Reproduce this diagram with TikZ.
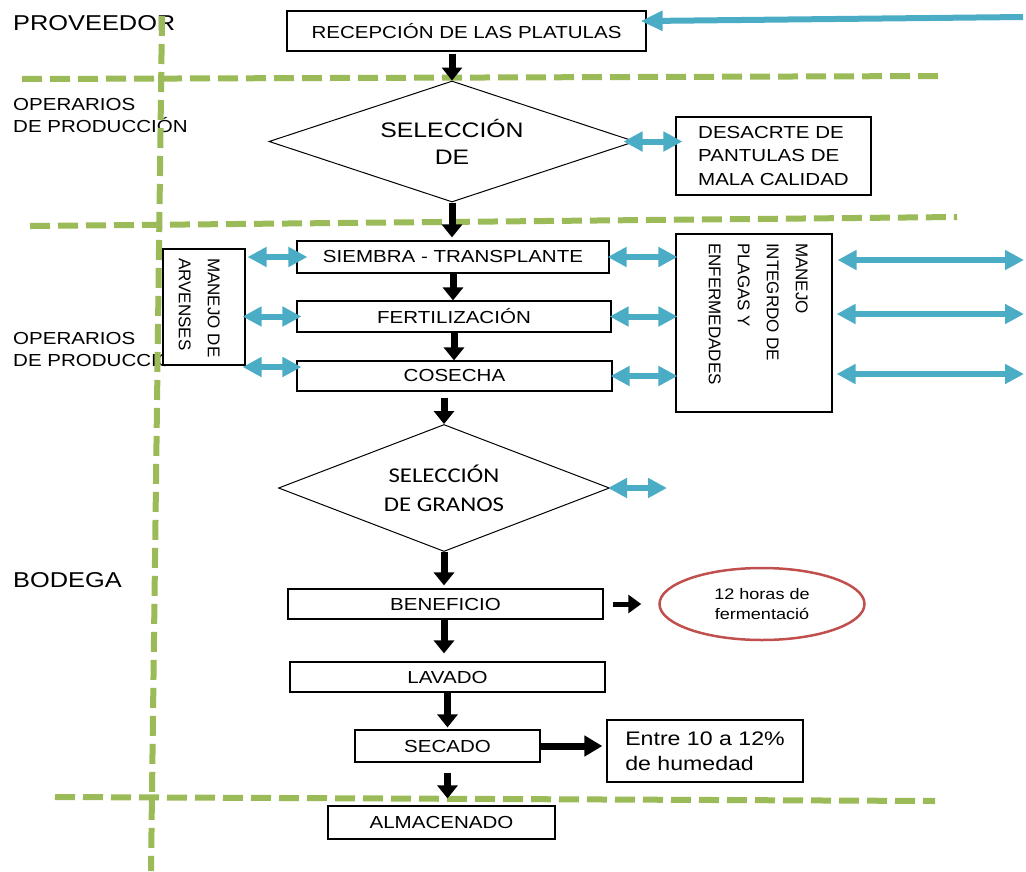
\documentclass[tikz,border=0pt]{standalone}
\usepackage{fontspec}
\setmainfont{Liberation Sans}[FakeStretch=1.18]
\newfontfamily\uprightsans{Liberation Sans}
\newfontfamily\grainfont{Carlito}[FakeStretch=1.18]
\usetikzlibrary{positioning, shapes.geometric, arrows.meta}
\definecolor{laneGreen}{HTML}{9BBB59}
\definecolor{linkBlue}{HTML}{4BACC6}
\definecolor{ovalRed}{HTML}{C0504D}
\newcommand{\boxfont}{\fontsize{17.4}{21}\selectfont}
\tikzstyle{Flow} = [
%black process arrow
line width=7pt, -{Triangle[length=13pt, width=20pt]}, shorten >= 3pt
]
\tikzstyle{Link} = [
%blue two-way arrow
line width=6pt, color=linkBlue, {Triangle[length=19pt, width=19pt]}-{Triangle[length=19pt, width=19pt]}
]
\tikzstyle{Lane} = [line width=6pt, color=laneGreen, dash pattern=on 20pt off 8pt]

\begin{document}
\begin{tikzpicture}[x=1pt, y=-1pt,
				stepbox/.style = {rectangle, draw, line width=1.2pt, fill=white, inner sep=0pt, font=\boxfont},
				decision/.style = {diamond, aspect=3, draw, line width=1pt, fill=white, inner sep=0pt, align=center},
				note/.style = {rectangle, draw, line width=1.2pt, fill=white, inner sep=0pt, align=left},
				vnote/.style = {rotate=-90, inner sep=0pt, align=left, font=\uprightsans\fontsize{17}{29}\selectfont},
				lanelabel/.style = {inner sep=0pt, align=left},
			]
			\useasboundingbox (0,0) rectangle (1026,871);

			% lanes
			\node[lanelabel, anchor=base west, font=\fontsize{21.5}{25}\selectfont] (prov) at (13,30) {PROVEEDOR};
			\node[lanelabel, anchor=west, font=\fontsize{17.4}{22}\selectfont] (oper1) at (13,115.5) {OPERARIOS\\DE PRODUCCIÓN};
			\node[lanelabel, anchor=west, font=\fontsize{17.4}{22}\selectfont] (oper2) at (13,349.5) {OPERARIOS\\DE PRODUCCIÓN};
			\node[lanelabel, anchor=base west, font=\fontsize{21.5}{25}\selectfont] (bod) at (13,587) {BODEGA};

			\draw[Lane] (22,79) -- (945,76);
			\draw[Lane] (30,226) -- (957,217);
			\draw[Lane] (55,797) -- (935,801);
			\draw[Lane] (162,16) -- (151,871);

			% process
			\node[stepbox, minimum width=359pt, minimum height=40pt] (recep) at (466.5,31) {RECEPCIÓN DE LAS PLATULAS};
			\node[decision, minimum width=366pt, minimum height=121pt, font=\fontsize{21}{27}\selectfont] (sel1) at (452,141.5) {SELECCIÓN\\DE};
			\node[note, minimum width=195pt, minimum height=78pt, font=\fontsize{17.4}{23.5}\selectfont] (desc) at (773.5,156) {DESACRTE DE\\PANTULAS DE\\MALA CALIDAD};
			\node[stepbox, minimum width=312pt, minimum height=32pt] (siembra) at (453,257) {SIEMBRA - TRANSPLANTE};
			\node[stepbox, minimum width=314pt, minimum height=31pt] (fert) at (454,316.5) {FERTILIZACIÓN};
			\node[stepbox, minimum width=315pt, minimum height=30pt] (cosecha) at (454.5,376) {COSECHA};
			\node[note, minimum width=82pt, minimum height=116pt] (arv) at (204,307) {};
			\node[vnote, anchor=north west] (arvtxt) at (220,258) {MANEJO DE\\ARVENSES};
			\node[note, minimum width=156pt, minimum height=178pt] (mip) at (754,323) {};
			\node[vnote, anchor=north west] (miptxt) at (808,243) {MANEJO\\INTEGRDO DE\\PLAGAS Y\\ENFERMEDADES};
			\node[decision, minimum width=331pt, minimum height=127pt, font=\grainfont\fontsize{21}{29}\selectfont] (sel2) at (444,488) {SELECCIÓN\\DE GRANOS};
			\node[stepbox, minimum width=315pt, minimum height=30pt] (benef) at (445.5,604) {BENEFICIO};
			\node[ellipse, draw=ovalRed, line width=2.5pt, fill=white, minimum width=205pt, minimum height=72pt, inner sep=0pt, align=center, font=\fontsize{15.3}{20}\selectfont] (ferm) at (762,604) {12 horas de\\fermentació};
			\node[stepbox, minimum width=315pt, minimum height=30pt] (lavado) at (447.5,677) {LAVADO};
			\node[stepbox, minimum width=185pt, minimum height=32pt] (secado) at (447.5,746) {SECADO};
			\node[note, minimum width=196pt, minimum height=62pt, font=\fontsize{19.6}{25}\selectfont] (humedad) at (705,751) {Entre 10 a 12\%\\de humedad};
			\node[stepbox, minimum width=227pt, minimum height=33pt] (almac) at (441.5,822.5) {ALMACENADO};

			\draw[Flow, shorten <=2pt, shorten >=0pt](sel1.north |- recep.south)--(sel1.north);
			\draw[Flow](sel1.south)--(sel1.south |- siembra.north);
			\draw[Flow, shorten >=0pt](siembra.south)--(siembra.south |- fert.north);
			\draw[Flow, shorten >=0pt](fert.south)--(fert.south |- cosecha.north);
			\draw[Flow, shorten <=6pt, shorten >=0pt](sel2.north |- cosecha.south)--(sel2.north);
			\draw[Flow](sel2.south)--(sel2.south |- benef.north);
			\draw[Flow, shorten >=8pt](sel2.south |- benef.south)--(sel2.south |- lavado.north);
			\draw[Flow, shorten >=2pt](lavado.south)--(lavado.south |- secado.north);
			\draw[Flow, shorten <=10pt, shorten >=7pt](secado.south)--(secado.south |- almac.north);
			\draw[Flow, line width=5pt, -{Triangle[length=13pt, width=18pt]}, shorten <=9pt, shorten >=17pt](benef.east)--(benef.east -| ferm.west);
			\draw[Flow, -{Triangle[length=18pt, width=20pt]}, shorten >=4pt](secado.east)--(secado.east -| humedad.west);

			% two-way links
			\coordinate (supply) at (1023,17);
			\draw[Link, -{Triangle[length=22pt, width=19pt]}, shorten >=-6pt](supply)--([yshift=10pt]recep.east);
			\draw[Link, shorten <=-12pt, shorten >=-7pt](sel1.east)--(sel1.east -| desc.west);

			\coordinate (cosL) at ([yshift=9pt]cosecha.west);
			\draw[Link, shorten <=2pt, shorten >=-11pt](arv.east |- siembra.west)--(siembra.west);
			\draw[Link, shorten <=-3pt, shorten >=-5pt](arv.east |- fert.west)--(fert.west);
			\draw[Link, shorten <=-3pt, shorten >=-5pt](cosL -| arv.east)--(cosL);

			\draw[Link, shorten <=-2pt, shorten >=-2pt](siembra.east)--(siembra.east -| mip.west);
			\draw[Link, shorten <=-2pt, shorten >=-2pt](fert.east)--(fert.east -| mip.west);
			\draw[Link, shorten <=-2pt, shorten >=-2pt](cosecha.east)--(cosecha.east -| mip.west);

			\coordinate (out1) at (1024,260);
			\coordinate (out2) at (1024,314);
			\coordinate (out3) at (1024,374);
			\draw[Link, shorten <=5pt](mip.east |- out1)--(out1);
			\draw[Link, shorten <=4pt](mip.east |- out2)--(out2);
			\draw[Link, shorten <=4pt](mip.east |- out3)--(out3);

			\coordinate (grade) at (667,488);
			\draw[Link, shorten <=-2pt](sel2.east)--(grade);

		\end{tikzpicture}
\end{document}
